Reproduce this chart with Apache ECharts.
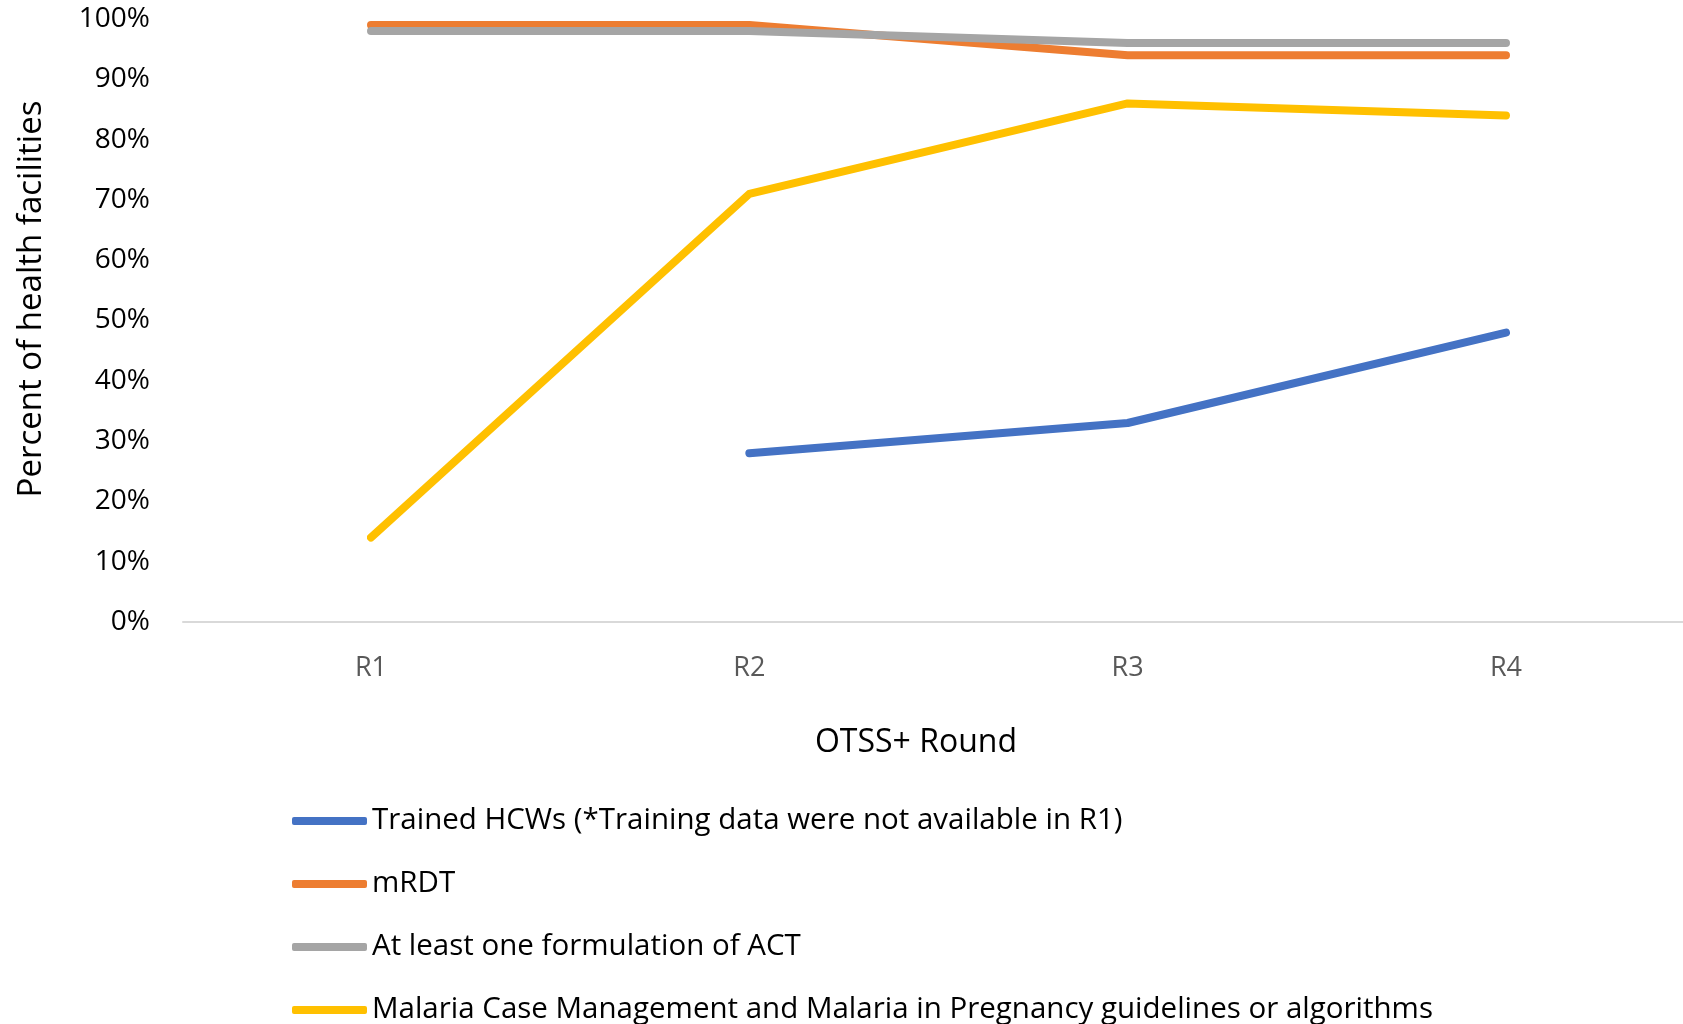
<!DOCTYPE html>
<html>
<head>
<meta charset="utf-8">
<script src="https://cdn.jsdelivr.net/npm/echarts@6/dist/echarts.min.js"></script>
<style>
  html, body { margin: 0; padding: 0; background: #fff; }
  #chart { width: 1683px; height: 1024px; }
</style>
</head>
<body>
<div id="chart"></div>
<script>
// data
const rounds = ['R1', 'R2', 'R3', 'R4'];
const trainedHcws = [null, 28, 33, 48];
const mrdt = [99, 99, 94, 94];
const act = [98, 98, 96, 96];
const guidelines = [14, 71, 86, 84];
const seriesNames = [
  'Trained HCWs (*Training data were not available in R1)',
  'mRDT',
  'At least one formulation of ACT',
  'Malaria Case Management and Malaria in Pregnancy guidelines or algorithms'
];
const colors = ['#4472C4', '#ED7D31', '#A5A5A5', '#FFC000'];

const font = '"Open Sans", "Noto Sans", sans-serif';
const chart = echarts.init(document.getElementById('chart'));

function lineSeries(name, data, color) {
  return {
    name: name,
    type: 'line',
    xAxisIndex: 0,
    yAxisIndex: 0,
    data: data,
    symbol: 'none',
    connectNulls: false,
    lineStyle: { color: color, width: 8, cap: 'round', join: 'round' },
    itemStyle: { color: color },
    emphasis: { disabled: true }
  };
}

chart.setOption({
  animation: false,
  color: colors,
  grid: [
    // plot area: category points R1..R4
    { left: 371, top: 19, width: 1135, height: 603 },
    // outer frame: baseline + y labels
    { left: 183, top: 19, right: 0, height: 603 }
  ],
  xAxis: [
    {
      gridIndex: 0,
      type: 'category',
      data: rounds,
      boundaryGap: false,
      axisLine: { show: false },
      axisTick: { show: false },
      axisLabel: { color: '#595959', fontSize: 27, fontFamily: font, margin: 33 }
    },
    {
      gridIndex: 1,
      type: 'value',
      min: 0,
      max: 1,
      axisLine: { show: true, lineStyle: { color: '#d9d9d9', width: 2 } },
      axisTick: { show: false },
      axisLabel: { show: false },
      splitLine: { show: false }
    }
  ],
  yAxis: [
    {
      gridIndex: 0,
      type: 'value',
      min: 0,
      max: 100,
      interval: 10,
      show: false
    },
    {
      gridIndex: 1,
      type: 'value',
      min: 0,
      max: 100,
      interval: 10,
      axisLine: { show: false },
      axisTick: { show: false },
      splitLine: { show: false },
      axisLabel: { color: '#000', fontSize: 28, fontFamily: font, margin: 33, formatter: '{value}%' }
    }
  ],
  legend: {
    orient: 'vertical',
    left: 292,
    top: 804,
    height: 300,
    padding: 0,
    itemWidth: 75,
    itemHeight: 8,
    itemGap: 29,
    icon: 'roundRect',
    textStyle: { color: '#000', fontSize: 29.5, fontFamily: font, lineHeight: 34 },
    data: seriesNames
  },
  graphic: [
    {
      type: 'text',
      x: 32, y: 299,
      rotation: Math.PI / 2,
      style: { text: 'Percent of health facilities', font: '33px ' + font, fill: '#000', align: 'center', verticalAlign: 'middle' }
    },
    {
      type: 'text',
      x: 916, y: 743,
      style: { text: 'OTSS+ Round', font: '32px ' + font, fill: '#000', align: 'center', verticalAlign: 'middle' }
    }
  ],
  series: [
    lineSeries(seriesNames[0], trainedHcws, colors[0]),
    lineSeries(seriesNames[1], mrdt, colors[1]),
    lineSeries(seriesNames[2], act, colors[2]),
    lineSeries(seriesNames[3], guidelines, colors[3])
  ]
});
</script>
</body>
</html>
